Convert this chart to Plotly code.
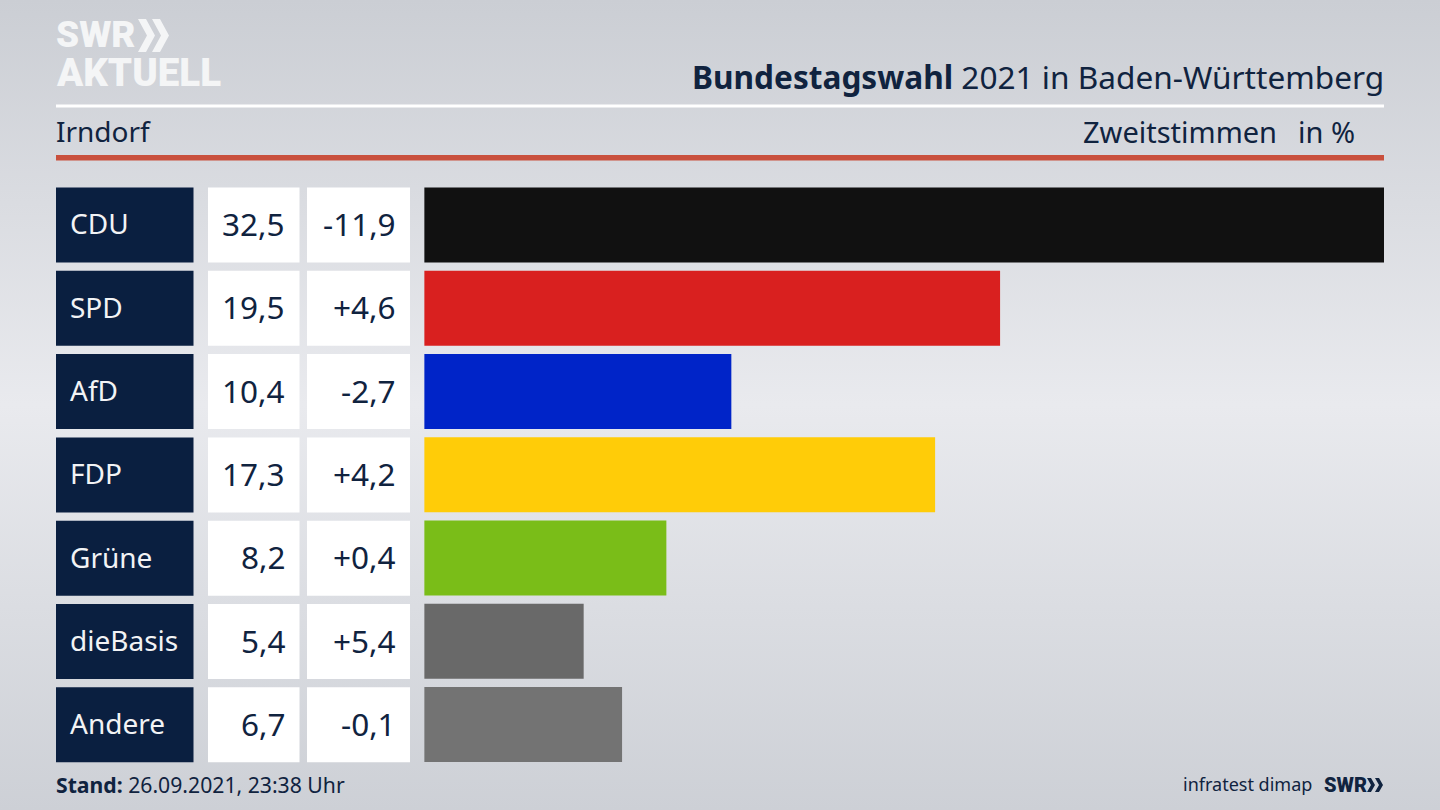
import base64

import plotly.graph_objects as go

W, H = 1440, 810

parties = ['CDU', 'SPD', 'AfD', 'FDP', 'Grüne', 'dieBasis', 'Andere']
shares = [32.5, 19.5, 10.4, 17.3, 8.2, 5.4, 6.7]
changes = ['-11,9', '+4,6', '-2,7', '+4,2', '+0,4', '+5,4', '-0,1']
bar_colors = ['#111111', '#d9201f', '#0024c8', '#ffcc08', '#7abd18', '#696969', '#737373']

NAVY = '#0a1f40'
TEXT = '#10233f'
LOGO = '#f4f5f6'
FONT = 'Noto Sans'


def px_x(x):
    return x / W


def px_y(y):
    return 1 - y / H


def label(x, y, text, size, color=TEXT, anchor='left', family=FONT, weight=None):
    # annotations keep a small padding around the text, so nudge it out
    x = x - 2 if anchor == 'left' else x + 2
    return dict(x=px_x(x), y=px_y(y), xref='paper', yref='paper', text=text, showarrow=False,
                xanchor=anchor, yanchor='middle', align=anchor,
                font=dict(family=family, size=size, color=color, weight=weight))


def box(x0, y0, x1, y1, color):
    return dict(type='rect', xref='paper', yref='paper', layer='below',
                x0=px_x(x0), x1=px_x(x1), y0=px_y(y0), y1=px_y(y1),
                fillcolor=color, line_width=0)


def chevron(x, y, w, h, t, color):
    # one arrow of the SWR logo, in pixels
    pts = [(x, y), (x + t, y), (x + t + w, y + h / 2), (x + t, y + h), (x, y + h), (x + w, y + h / 2)]
    path = 'M ' + ' L '.join(f'{px_x(a):.5f},{px_y(b):.5f}' for a, b in pts) + ' Z'
    return dict(type='path', xref='paper', yref='paper', path=path, fillcolor=color, line_width=0)


# background
svg = f'''<svg xmlns="http://www.w3.org/2000/svg" width="{W}" height="{H}">
<defs><linearGradient id="g" x1="0" y1="0" x2="0" y2="1">
<stop offset="0%" stop-color="#cbced4"/><stop offset="50%" stop-color="#e9eaee"/>
<stop offset="100%" stop-color="#cdd0d6"/></linearGradient></defs>
<rect width="{W}" height="{H}" fill="url(#g)"/></svg>'''
bg = 'data:image/svg+xml;base64,' + base64.b64encode(svg.encode()).decode()

fig = go.Figure()
fig.add_trace(go.Bar(x=shares, y=parties, orientation='h', width=0.9,
                     marker=dict(color=bar_colors, line_width=0), hoverinfo='skip'))

shapes = [
    box(56, 104.5, 1384, 107.5, '#ffffff'),
    box(56, 155, 1384, 160.5, '#c9503d'),
]
annotations = [
    label(56, 131, 'Irndorf', 28),
    label(1277, 131, 'Zweitstimmen', 29, anchor='right'),
    label(1355, 131, 'in %', 29, anchor='right'),
    label(1384, 76, '<b>Bundestagswahl</b> 2021 in Baden-Württemberg', 31.6, anchor='right'),
    label(56, 784, '<b>Stand:</b> 26.09.2021, 23:38 Uhr', 21.2),
    label(1312, 784, 'infratest dimap', 18, anchor='right'),
    label(1324, 785, 'SWR', 20, family='Roboto', weight=900),
    label(55.5, 35, 'SWR', 37, color=LOGO, family='Roboto', weight=900),
    label(55.5, 72, 'AKTUELL', 38.5, color=LOGO, family='Roboto', weight=900),
]
shapes += [chevron(138, 19, 9, 33, 8, LOGO), chevron(152, 19, 9, 33, 8, LOGO),
           chevron(1367, 778, 4, 14, 4, TEXT), chevron(1375, 778, 4, 14, 4, TEXT)]

for i, party in enumerate(parties):
    top = 187.5 + i * 83.3
    mid = top + 36
    shapes.append(box(56, top, 193.5, top + 75, NAVY))
    shapes.append(box(208, top, 299.5, top + 75, '#ffffff'))
    shapes.append(box(307, top, 410, top + 75, '#ffffff'))
    annotations.append(label(70, mid, party, 28, color='#f2f3f5'))
    annotations.append(label(285, mid, f'{shares[i]:.1f}'.replace('.', ','), 31.5, anchor='right'))
    annotations.append(label(396, mid, changes[i], 31.5, anchor='right'))

fig.update_layout(
    width=W, height=H, margin=dict(l=0, r=0, t=0, b=0), autosize=False,
    showlegend=False, plot_bgcolor='rgba(0,0,0,0)', paper_bgcolor='#dcdde1',
    shapes=shapes, annotations=annotations,
    images=[dict(source=bg, xref='paper', yref='paper', x=0, y=1, sizex=1, sizey=1,
                 sizing='stretch', xanchor='left', yanchor='top', layer='below')],
    xaxis=dict(domain=[424.2 / W, 1384 / W], range=[0, 32.5], visible=False),
    yaxis=dict(domain=[px_y(766.2), px_y(183.3)], range=[6.5, -0.5], type='category',
               categoryorder='array', categoryarray=parties, visible=False),
)

fig.write_html('out.html', config=dict(displayModeBar=False),
               post_script="document.body.style.margin='0';document.body.style.overflow='hidden';")
